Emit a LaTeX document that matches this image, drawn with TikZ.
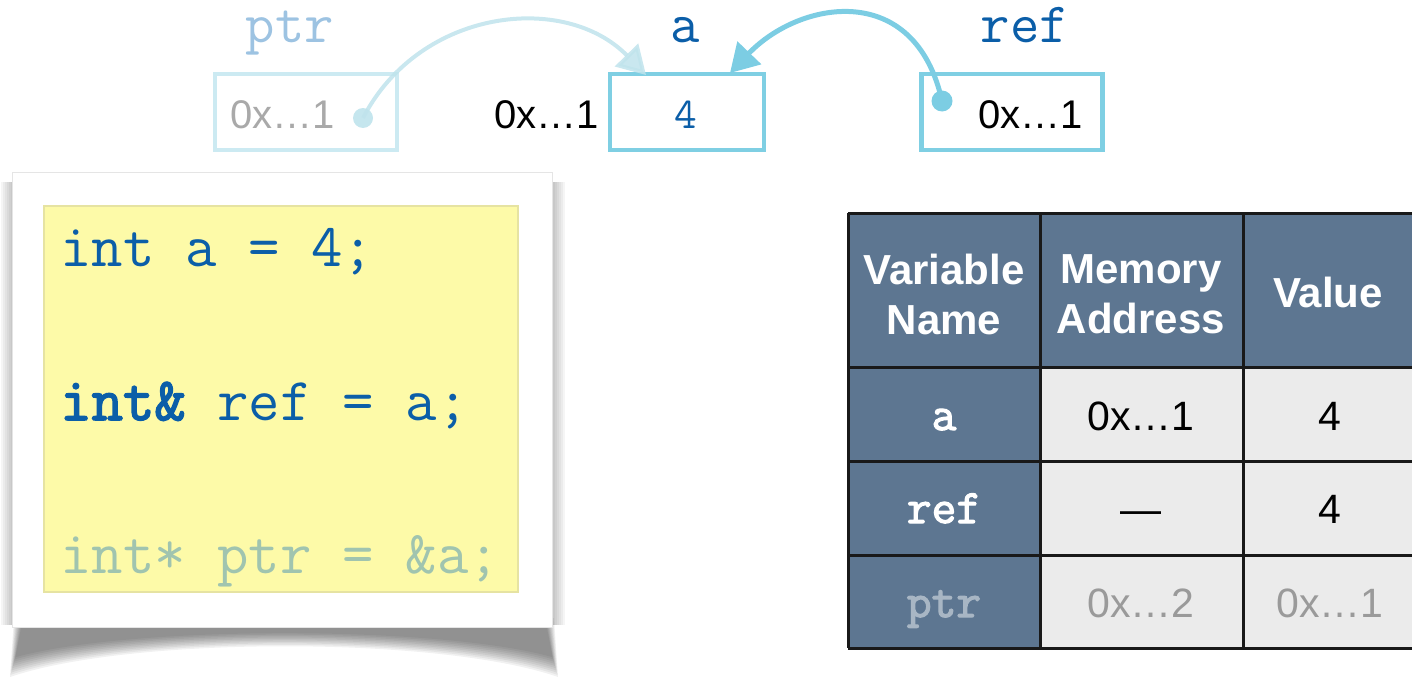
\documentclass[tikz,border=0pt]{standalone}
\usepackage{fontspec}
\newfontfamily\hv{Liberation Sans}
\newfontfamily\hvb{Liberation Sans}[UprightFont=* Bold]
\newfontfamily\monobold{Latin Modern Mono}[FakeBold=2.5]
\usetikzlibrary{arrows.meta}
\definecolor{dblue}{HTML}{0B5EA8}
\definecolor{lblue}{HTML}{9DC3E2}
\definecolor{boxcyan}{HTML}{7FCFE3}
\definecolor{boxlight}{HTML}{CCEAF2}
\definecolor{arrcyan}{HTML}{7CCDE3}
\definecolor{arrlight}{HTML}{BFE3EC}
\definecolor{codeyel}{HTML}{FDFAA8}
\definecolor{codeyelb}{HTML}{E6E3A2}
\definecolor{codeptr}{HTML}{A0C4AF}
\definecolor{thead}{HTML}{5D7691}
\definecolor{tcell}{HTML}{EBEBEB}
\definecolor{tptr}{HTML}{A8B6C4}
\definecolor{tgray}{HTML}{9A9A9A}
\newcommand\setfs[1]{\fontsize{#1}{#1}\selectfont}
\begin{document}
\begin{tikzpicture}[x=1pt,y=-1pt,
  membox/.style={draw, line width=4.5pt, minimum height=76pt, inner sep=0pt},
  monolabel/.style={font=\ttfamily\setfs{57}, anchor=base, inner sep=0pt},
  addr/.style={font=\hv\setfs{40}, anchor=base west, inner sep=0pt},
  codeline/.style={font=\ttfamily\setfs{61}, anchor=base west, inner sep=0pt, color=dblue},
  hcell/.style={font=\hvb\fontsize{42}{50}\selectfont, text=white, align=center, inner sep=0pt},
  tval/.style={font=\hv\setfs{41}, anchor=base, inner sep=0pt},
  tname/.style={font=\monobold\setfs{48}, anchor=base, inner sep=0pt},
  ptrarrow/.style={line width=4pt, -{Triangle[length=28pt,width=32pt]}}
]
\useasboundingbox (0,0) rectangle (1412,677);
\clip (0,0) rectangle (1412,677);

% ---------- memory boxes ----------
\node[monolabel, text=lblue] (ptrlbl) at (290,43) {ptr};
\node[monolabel, text=dblue] (albl) at (685,43) {a};
\node[monolabel, text=dblue] (reflbl) at (1025,43) {ref};

\node[membox, draw=boxlight, minimum width=182pt] (ptrbox) at (306,112) {};
\node[membox, draw=boxcyan, minimum width=154pt] (abox) at (687,112) {};
\node[membox, draw=boxcyan, minimum width=181pt] (refbox) at (1012,112) {};

\node[addr, text=tgray!85] (ptrval) at (230,128) {0x…1};
\node[font=\ttfamily\setfs{44}, anchor=base, inner sep=0pt, text=dblue] (aval) at (686,128) {4};
\node[addr, text=black] (aaddr) at (494,128) {0x…1};
\node[addr, text=black] (refval) at (978,128) {0x…1};

\coordinate (ptrdot) at (363,118);
\coordinate (refdot) at (942,101);
\coordinate (ptrtip) at (646,75);
\coordinate (reftip) at (730,73);

\draw[ptrarrow, draw=arrlight, opacity=0.85]
  (ptrdot) .. controls (420,8) and (565,-8) .. (ptrtip);
\fill[arrlight, opacity=0.9] (ptrdot) circle (10pt);

\draw[ptrarrow, draw=arrcyan, line width=5pt]
  (refdot) .. controls (915,-20) and (800,0) .. (reftip);
\fill[arrcyan] (refdot) circle (10.5pt);

% ---------- code card ----------
\foreach \k in {0,...,9}{
  \fill[black, opacity=0.055]
    (14+\k,618) -- (554-\k,618) -- (558-\k*0.6,677-\k*2.2)
    .. controls (440,636-\k*1.2) and (130,636-\k*1.2) .. (10+\k*0.6,677-\k*2.2) -- cycle;
}
\foreach \k in {0,...,5}{
  \fill[black, opacity=0.04] (1+\k*2,182) rectangle (14,625);
  \fill[black, opacity=0.04] (550,182) rectangle (565-\k*2,625);
}
\fill[white] (12,172) rectangle (552,627);
\draw[black!10, line width=0.8pt] (12,172) rectangle (552,627);
\node[draw=codeyelb, fill=codeyel, line width=1.2pt, minimum width=474pt, minimum height=386pt, inner sep=0pt] (codebox) at (281,399) {};
\node[codeline] (code1) at (60,266) {int a = 4;};
\node[codeline] (code2) at (60,420) {{\monobold int\&} ref = a;};
\node[codeline, color=codeptr] (code3) at (60,573) {int* ptr = \&a;};

% ---------- table ----------
\fill[thead] (848,213) rectangle (1420,367);
\fill[thead] (848,367) rectangle (1040,648);
\fill[tcell] (1040,367) rectangle (1420,648);
\draw[black!90, line width=3pt]
  (848,213) -- (1420,213)
  (848,367) -- (1420,367)
  (848,461) -- (1420,461)
  (848,555) -- (1420,555)
  (848,648) -- (1420,648)
  (848,213) -- (848,648)
  (1040,213) -- (1040,648)
  (1243,213) -- (1243,648);

\node[hcell] (hvar) at (944,294) {Variable\\Name};
\node[hcell] (hmem) at (1141,294) {Memory\\Address};
\node[hcell] (hval) at (1328,292) {Value};

\node[tname, text=white] (na) at (944,430) {a};
\node[tval] (aaddrc) at (1141,430) {0x…1};
\node[tval] (avalc) at (1330,430) {4};

\node[tname, text=white] (nref) at (944,523) {ref};
\node[tval] (refaddrc) at (1141,523) {—};
\node[tval] (refvalc) at (1330,523) {4};

\node[tname, text=tptr] (nptr) at (944,617) {ptr};
\node[tval, text=tgray] (ptraddrc) at (1141,617) {0x…2};
\node[tval, text=tgray] (ptrvalc) at (1330,617) {0x…1};
\end{tikzpicture}
\end{document}
